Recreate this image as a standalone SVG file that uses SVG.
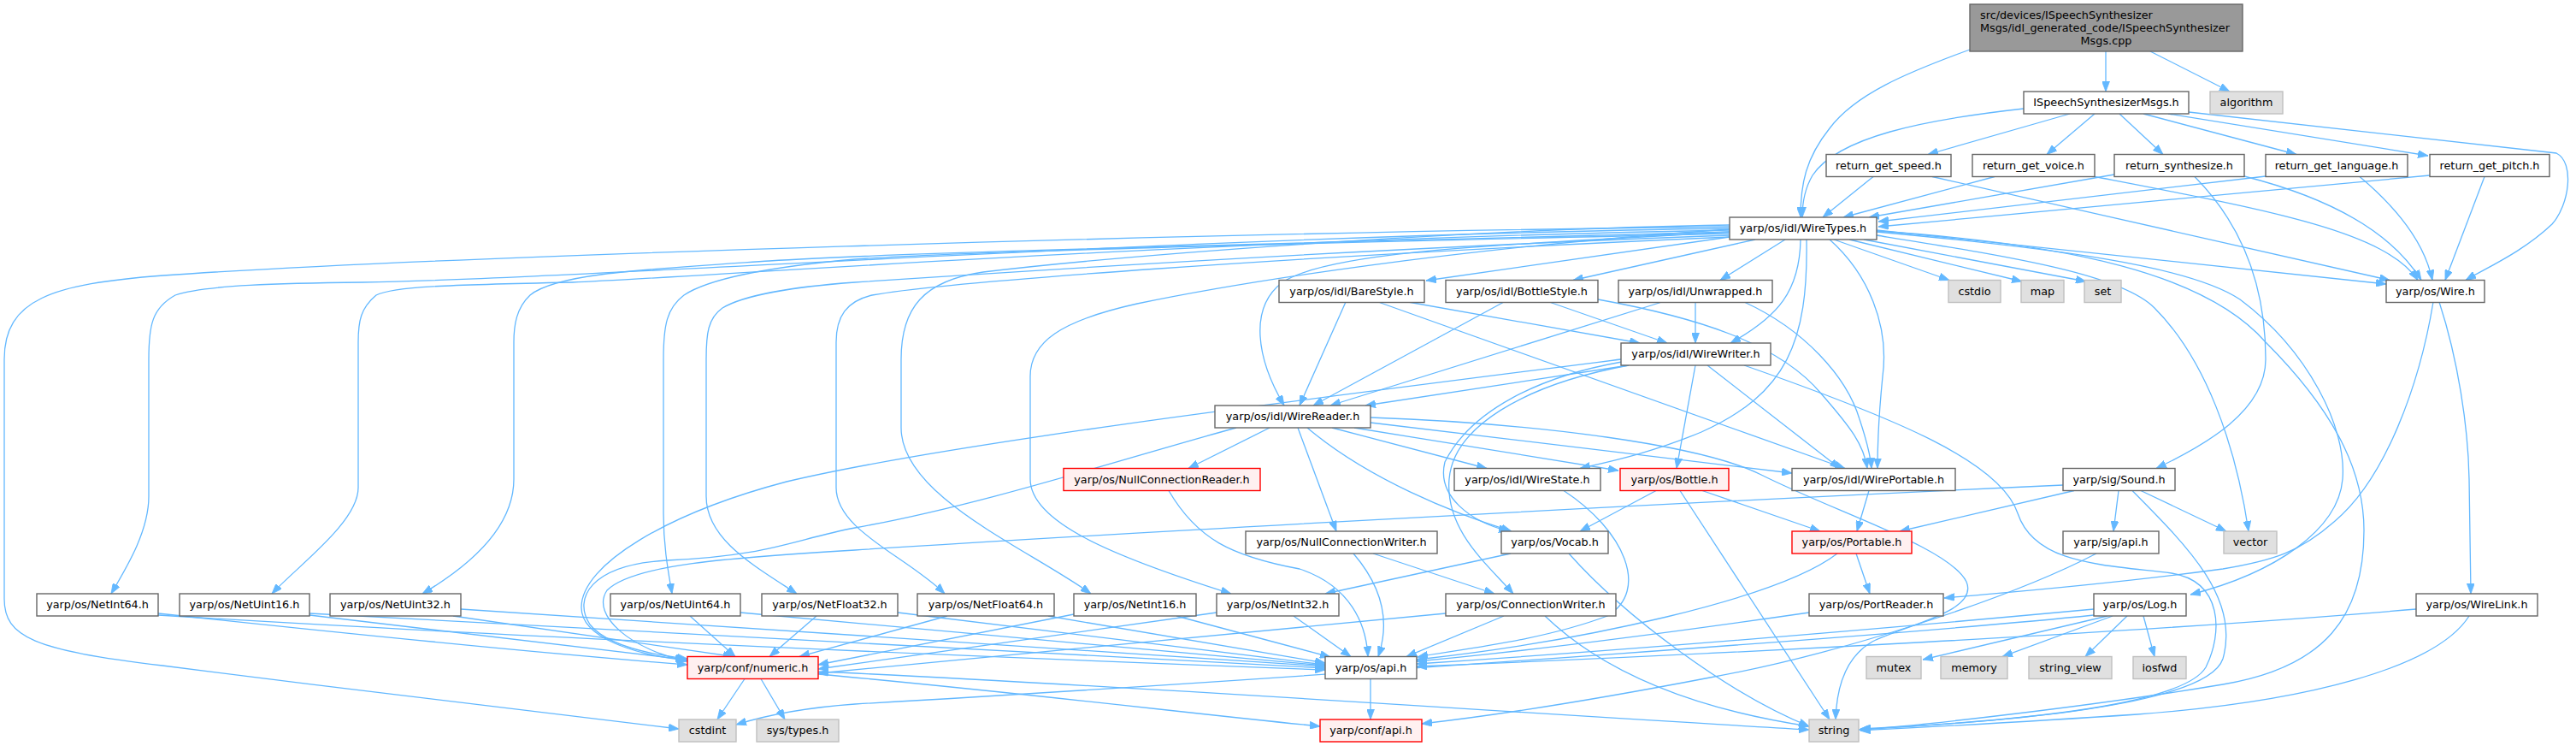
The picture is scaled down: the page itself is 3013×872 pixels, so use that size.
<svg xmlns="http://www.w3.org/2000/svg" width="3013" height="872" viewBox="0 0 3013 872">
<style>
text{font-family:"DejaVu Sans","Liberation Sans",sans-serif;font-size:12.8px;fill:#000;text-anchor:middle}
.n rect{fill:#fff;stroke:#666;stroke-width:1.4}
.g rect{fill:#e0e0e0;stroke:#bfbfbf;stroke-width:1.4}
.r rect{fill:#fff0f0;stroke:#f00;stroke-width:1.4}
.t rect{fill:#999;stroke:#666;stroke-width:1.4}
#edges path{fill:none;stroke:#63b8ff;stroke-width:1.3;marker-end:url(#ah)}
</style>
<defs>
<marker id="ah" viewBox="0 0 12 9" refX="12" refY="4.5" markerWidth="12" markerHeight="9" markerUnits="userSpaceOnUse" orient="auto">
<path d="M0,0L12,4.5L0,9z" fill="#63b8ff" stroke="#63b8ff" stroke-width="0.8"/>
</marker>
</defs>
<rect width="3013" height="872" fill="#fff"/>
<g id="edges">
<path d="M2463,60 L2463,107"/>
<path d="M2515,60 L2608,107"/>
<path d="M2304,58 C2230,85 2170,110 2140,150 C2112,185 2106,215 2106,254"/>
<path d="M2367,127 C2250,140 2150,160 2120,205 C2110,222 2108,238 2108,254"/>
<path d="M2421,133 L2255,180.5"/>
<path d="M2450,133 L2394,180.5"/>
<path d="M2479,133 L2530,180.5"/>
<path d="M2507,133 L2686,180.5"/>
<path d="M2536,133 L2840,182"/>
<path d="M2560,131 L2990,179 C3012,190 3005,240 2985,262 C2950,295 2910,312 2884,327.5"/>
<path d="M2191,206.5 L2132,254"/>
<path d="M2260,206.5 L2795,327.5"/>
<path d="M2333,206.5 L2156,254"/>
<path d="M2450,206.5 C2650,245 2790,270 2828,327.5"/>
<path d="M2473,204 L2186,254"/>
<path d="M2625,206 C2700,225 2790,260 2832,327.5"/>
<path d="M2567,206.5 C2620,260 2650,330 2650,420 C2650,480 2580,520 2522,547.5"/>
<path d="M2650,206 L2197,259"/>
<path d="M2760,206.5 C2800,240 2835,280 2845,327.5"/>
<path d="M2842,205 L2197,265"/>
<path d="M2906,206.5 L2860,327.5"/>
<path d="M2195,269 L2791,332"/>
<path d="M2145,280 L2280,327.5"/>
<path d="M2163,280 L2365,329"/>
<path d="M2180,280 L2440,329"/>
<path d="M2023,277 L1668,328"/>
<path d="M2053,280 L1840,327.5"/>
<path d="M2088,280 L2012,327.5"/>
<path d="M2106,280 C2105,340 2080,370 2024,401"/>
<path d="M2113,280 C2115,400 2090,460 1990,505 C1930,530 1880,540 1848,547.5"/>
<path d="M2140,280 C2185,320 2210,380 2202,440 C2197,490 2196,520 2196,547.5"/>
<path d="M2023,271 C1800,285 1560,290 1500,330 C1460,360 1470,420 1502,474"/>
<path d="M2023,265 C1400,272 500,300 191,322 C60,332 5,350 5,420 L5,700 C5,745 40,760 190,778 C400,805 650,835 794,852"/>
<path d="M2023,267 C1400,275 700,325 424,330 C330,331 240,333 205,345 C178,360 174,380 174,420 L174,580 C174,620 150,660 130,694"/>
<path d="M2023,269 C1400,280 800,325 670,330 C520,333 460,335 440,345 C422,360 419,375 419,400 L419,570 C419,610 350,660 318,694"/>
<path d="M2023,271 C1500,285 1050,295 900,305 C750,315 650,320 620,345 C604,360 601,380 601,400 L601,560 C601,610 560,655 494,694"/>
<path d="M2023,273 C1500,285 1100,295 1000,303 C900,312 830,325 800,345 C780,360 776,380 776,420 L776,600 C776,640 782,670 786,694"/>
<path d="M2023,275 C1600,290 1150,320 1000,330 C930,335 870,345 845,360 C828,372 826,390 826,420 L826,580 C826,630 880,660 932,694"/>
<path d="M2023,277 C1500,300 1100,330 1020,345 C990,352 978,370 978,400 L978,570 C978,620 1060,650 1105,694"/>
<path d="M2023,263 C1700,268 1300,300 1150,318 C1080,328 1054,360 1054,420 L1054,500 C1054,580 1200,640 1276,694"/>
<path d="M2023,268 C1700,290 1450,330 1330,355 C1240,375 1205,400 1205,440 L1205,560 C1205,610 1300,650 1440,694"/>
<path d="M2195,275 C2350,300 2480,320 2520,360 C2580,420 2615,520 2630,621"/>
<path d="M2195,271 C2400,290 2560,310 2620,350 C2700,410 2745,500 2740,560 C2735,620 2660,670 2562,695"/>
<path d="M2195,270 C2420,285 2580,320 2650,400 C2740,490 2765,560 2765,620 C2765,720 2720,780 2600,800 C2450,825 2250,848 2174,853"/>
<path d="M1574,353 L1520,474"/>
<path d="M1647,353 L1918,401"/>
<path d="M1612,353 L2158,547.5"/>
<path d="M1759,353 L1536,474"/>
<path d="M1812,353 L1950,401"/>
<path d="M1869,350 C1980,370 2080,400 2130,460 C2165,500 2180,520 2184,547.5"/>
<path d="M1944,353 L1556,474"/>
<path d="M1983,353 L1983,401"/>
<path d="M2040,353 C2110,385 2160,440 2175,490 C2185,520 2188,535 2189,547.5"/>
<path d="M1905,427 L1597,474"/>
<path d="M1997,427 L2152,547.5"/>
<path d="M1983,427 L1961,547.5"/>
<path d="M1897,423 C1800,440 1720,480 1690,540 C1680,580 1720,610 1765,621"/>
<path d="M1905,427 C1780,450 1700,500 1695,560 C1690,620 1740,660 1770,694"/>
<path d="M1896,420 C1500,470 1100,520 920,563 C780,600 680,660 680,710 C680,745 740,765 804,772"/>
<path d="M2040,427 C2220,490 2340,540 2360,600 C2380,660 2460,660 2540,670 C2600,680 2600,740 2580,780 C2550,830 2300,846 2176,852"/>
<path d="M1485,500 L1390,547.5"/>
<path d="M1518,500 L1563,621"/>
<path d="M1529,500 C1600,560 1700,600 1768,621"/>
<path d="M1558,500 L1739,547.5"/>
<path d="M1584,500 L1893,550"/>
<path d="M1603,494 L2096,553"/>
<path d="M1446,500 C1300,540 1150,590 1000,617 C930,630 900,650 780,655 C690,660 670,700 690,730 C710,755 760,765 804,770"/>
<path d="M1603,488 C1800,495 1990,520 2060,555 C2150,600 2280,640 2300,680 C2315,715 2230,730 2190,750 C2155,770 2148,810 2147,841"/>
<path d="M1367,573.5 C1400,630 1440,650 1520,665 C1580,685 1598,730 1600,767.5"/>
<path d="M1829,573.5 C1900,620 1930,690 1880,720 C1800,750 1700,760 1658,768"/>
<path d="M1937,573.5 L1848,621"/>
<path d="M1991,573.5 L2129,621"/>
<path d="M1965,573.5 L2140,841"/>
<path d="M2186,573.5 L2172,621"/>
<path d="M2426,573.5 L2222,621"/>
<path d="M2478,573.5 L2472,621"/>
<path d="M2504,573.5 L2604,621"/>
<path d="M2494,573.5 C2560,640 2620,700 2600,770 C2580,830 2300,845 2176,853"/>
<path d="M2413,567 C1800,595 1200,630 1000,643 C850,652 740,660 710,690 C690,720 740,760 804,773"/>
<path d="M1583,647 C1620,690 1625,730 1612,767.5"/>
<path d="M1606,647 L1748,694"/>
<path d="M1767,647 L1550,694"/>
<path d="M1835,647 C1900,720 2020,810 2116,849"/>
<path d="M2149,647 C2080,700 1850,750 1657,771"/>
<path d="M2171,647 L2187,694"/>
<path d="M2452,647 C2350,700 2150,765 2000,792 C1880,815 1760,835 1663,846"/>
<path d="M2846,353 C2830,450 2790,560 2730,610 C2690,645 2660,655 2600,665 C2450,685 2350,692 2274,699"/>
<path d="M2853,353 C2875,420 2887,500 2888,560 L2890,694"/>
<path d="M185,717 C400,740 650,765 804,777"/>
<path d="M185,719 C600,745 1200,770 1550,783"/>
<path d="M362,719 L802,771"/>
<path d="M362,717 L1550,781"/>
<path d="M530,720 L858,767.5"/>
<path d="M539,712 L1550,779"/>
<path d="M807,720 L860,767.5"/>
<path d="M866,716 L1550,778"/>
<path d="M955,720 L900,767.5"/>
<path d="M1050,716 L1550,777"/>
<path d="M1108,720 L935,767.5"/>
<path d="M1226,720 L1550,775"/>
<path d="M1256,718 L957,777"/>
<path d="M1376,720 L1556,768"/>
<path d="M1423,716 L957,782"/>
<path d="M1513,720 L1580,767.5"/>
<path d="M1691,717 L957,787"/>
<path d="M1759,720 L1645,767.5"/>
<path d="M1807,720 C1880,790 1990,830 2116,849"/>
<path d="M2116,716 C1950,740 1800,760 1657,773"/>
<path d="M2449,712 C2200,735 1900,760 1657,776"/>
<path d="M2449,719 C2200,745 1400,800 1000,823 C930,828 890,838 861,847"/>
<path d="M2465,720 L2249,771"/>
<path d="M2471,720 L2342,767.5"/>
<path d="M2488,720 L2439,767.5"/>
<path d="M2507,720 L2520,767.5"/>
<path d="M2826,712 C2500,740 2000,765 1657,779"/>
<path d="M2888,720 C2850,780 2700,820 2500,835 C2350,845 2250,850 2176,854"/>
<path d="M871,793.5 L839,841"/>
<path d="M890,793.5 L918,841"/>
<path d="M957,788 C1200,810 1400,835 1544,849"/>
<path d="M957,785 C1300,800 1800,835 2116,853"/>
<path d="M1603,793.5 L1603,841"/>
</g>
<g id="n_cpp" class="t"><rect x="2304" y="5" width="319" height="55"/><text x="2316" y="21.5" style="text-anchor:start">src/devices/ISpeechSynthesizer</text><text x="2316" y="36.5" style="text-anchor:start">Msgs/idl_generated_code/ISpeechSynthesizer</text><text x="2463.5" y="51.5">Msgs.cpp</text></g>
<g id="n_ISpeechH" class="n"><rect x="2367" y="107" width="193" height="26"/><text x="2463.5" y="124">ISpeechSynthesizerMsgs.h</text></g>
<g id="n_algorithm" class="g"><rect x="2585" y="107" width="85" height="26"/><text x="2627.5" y="124">algorithm</text></g>
<g id="n_speed" class="n"><rect x="2136" y="180.5" width="146" height="26"/><text x="2209" y="197.5">return_get_speed.h</text></g>
<g id="n_voice" class="n"><rect x="2307" y="180.5" width="143" height="26"/><text x="2378.5" y="197.5">return_get_voice.h</text></g>
<g id="n_synth" class="n"><rect x="2473" y="180.5" width="152" height="26"/><text x="2549" y="197.5">return_synthesize.h</text></g>
<g id="n_lang" class="n"><rect x="2650" y="180.5" width="166" height="26"/><text x="2733" y="197.5">return_get_language.h</text></g>
<g id="n_pitch" class="n"><rect x="2842" y="180.5" width="140" height="26"/><text x="2912" y="197.5">return_get_pitch.h</text></g>
<g id="n_WireTypes" class="n"><rect x="2023" y="254" width="172" height="26"/><text x="2109" y="271">yarp/os/idl/WireTypes.h</text></g>
<g id="n_BareStyle" class="n"><rect x="1496" y="327.5" width="170" height="26"/><text x="1581" y="344.5">yarp/os/idl/BareStyle.h</text></g>
<g id="n_BottleStyle" class="n"><rect x="1691" y="327.5" width="178" height="26"/><text x="1780" y="344.5">yarp/os/idl/BottleStyle.h</text></g>
<g id="n_Unwrapped" class="n"><rect x="1893" y="327.5" width="180" height="26"/><text x="1983" y="344.5">yarp/os/idl/Unwrapped.h</text></g>
<g id="n_cstdio" class="g"><rect x="2279" y="327.5" width="61" height="26"/><text x="2309.5" y="344.5">cstdio</text></g>
<g id="n_map" class="g"><rect x="2364" y="327.5" width="50" height="26"/><text x="2389" y="344.5">map</text></g>
<g id="n_set" class="g"><rect x="2438" y="327.5" width="43" height="26"/><text x="2459.5" y="344.5">set</text></g>
<g id="n_Wire" class="n"><rect x="2791" y="327.5" width="115" height="26"/><text x="2848.5" y="344.5">yarp/os/Wire.h</text></g>
<g id="n_WireWriter" class="n"><rect x="1896" y="401" width="175" height="26"/><text x="1983.5" y="418">yarp/os/idl/WireWriter.h</text></g>
<g id="n_WireReader" class="n"><rect x="1421" y="474" width="182" height="26"/><text x="1512" y="491">yarp/os/idl/WireReader.h</text></g>
<g id="n_NCR" class="r"><rect x="1244" y="547.5" width="230" height="26"/><text x="1359" y="564.5">yarp/os/NullConnectionReader.h</text></g>
<g id="n_WireState" class="n"><rect x="1701" y="547.5" width="171" height="26"/><text x="1786.5" y="564.5">yarp/os/idl/WireState.h</text></g>
<g id="n_Bottle" class="r"><rect x="1895" y="547.5" width="127" height="26"/><text x="1958.5" y="564.5">yarp/os/Bottle.h</text></g>
<g id="n_WirePortable" class="n"><rect x="2096" y="547.5" width="191" height="26"/><text x="2191.5" y="564.5">yarp/os/idl/WirePortable.h</text></g>
<g id="n_Sound" class="n"><rect x="2413" y="547.5" width="131" height="26"/><text x="2478.5" y="564.5">yarp/sig/Sound.h</text></g>
<g id="n_NCW" class="n"><rect x="1457" y="621" width="224" height="26"/><text x="1569" y="638">yarp/os/NullConnectionWriter.h</text></g>
<g id="n_Vocab" class="n"><rect x="1756" y="621" width="125" height="26"/><text x="1818.5" y="638">yarp/os/Vocab.h</text></g>
<g id="n_Portable" class="r"><rect x="2096" y="621" width="140" height="26"/><text x="2166" y="638">yarp/os/Portable.h</text></g>
<g id="n_sigapi" class="n"><rect x="2413" y="621" width="112" height="26"/><text x="2469" y="638">yarp/sig/api.h</text></g>
<g id="n_vector" class="g"><rect x="2601" y="621" width="62" height="26"/><text x="2632" y="638">vector</text></g>
<g id="n_NetInt64" class="n"><rect x="43" y="694" width="142" height="26"/><text x="114" y="711">yarp/os/NetInt64.h</text></g>
<g id="n_NetUint16" class="n"><rect x="210" y="694" width="152" height="26"/><text x="286" y="711">yarp/os/NetUint16.h</text></g>
<g id="n_NetUint32" class="n"><rect x="386" y="694" width="153" height="26"/><text x="462.5" y="711">yarp/os/NetUint32.h</text></g>
<g id="n_NetUint64" class="n"><rect x="714" y="694" width="152" height="26"/><text x="790" y="711">yarp/os/NetUint64.h</text></g>
<g id="n_NetFloat32" class="n"><rect x="891" y="694" width="159" height="26"/><text x="970.5" y="711">yarp/os/NetFloat32.h</text></g>
<g id="n_NetFloat64" class="n"><rect x="1073" y="694" width="160" height="26"/><text x="1153" y="711">yarp/os/NetFloat64.h</text></g>
<g id="n_NetInt16" class="n"><rect x="1256" y="694" width="143" height="26"/><text x="1327.5" y="711">yarp/os/NetInt16.h</text></g>
<g id="n_NetInt32" class="n"><rect x="1423" y="694" width="143" height="26"/><text x="1494.5" y="711">yarp/os/NetInt32.h</text></g>
<g id="n_ConnWriter" class="n"><rect x="1691" y="694" width="199" height="26"/><text x="1790.5" y="711">yarp/os/ConnectionWriter.h</text></g>
<g id="n_PortReader" class="n"><rect x="2116" y="694" width="157" height="26"/><text x="2194.5" y="711">yarp/os/PortReader.h</text></g>
<g id="n_Log" class="n"><rect x="2449" y="694" width="108" height="26"/><text x="2503" y="711">yarp/os/Log.h</text></g>
<g id="n_WireLink" class="n"><rect x="2826" y="694" width="142" height="26"/><text x="2897" y="711">yarp/os/WireLink.h</text></g>
<g id="n_numeric" class="r"><rect x="804" y="767.5" width="153" height="26"/><text x="880.5" y="784.5">yarp/conf/numeric.h</text></g>
<g id="n_osapi" class="n"><rect x="1550" y="767.5" width="107" height="26"/><text x="1603.5" y="784.5">yarp/os/api.h</text></g>
<g id="n_mutex" class="g"><rect x="2183" y="767.5" width="64" height="26"/><text x="2215" y="784.5">mutex</text></g>
<g id="n_memory" class="g"><rect x="2270" y="767.5" width="78" height="26"/><text x="2309" y="784.5">memory</text></g>
<g id="n_string_view" class="g"><rect x="2373" y="767.5" width="97" height="26"/><text x="2421.5" y="784.5">string_view</text></g>
<g id="n_iosfwd" class="g"><rect x="2495" y="767.5" width="62" height="26"/><text x="2526" y="784.5">iosfwd</text></g>
<g id="n_cstdint" class="g"><rect x="794" y="841" width="67" height="26"/><text x="827.5" y="858">cstdint</text></g>
<g id="n_systypes" class="g"><rect x="885" y="841" width="96" height="26"/><text x="933" y="858">sys/types.h</text></g>
<g id="n_confapi" class="r"><rect x="1544" y="841" width="119" height="26"/><text x="1603.5" y="858">yarp/conf/api.h</text></g>
<g id="n_string" class="g"><rect x="2116" y="841" width="58" height="26"/><text x="2145" y="858">string</text></g>
</svg>
